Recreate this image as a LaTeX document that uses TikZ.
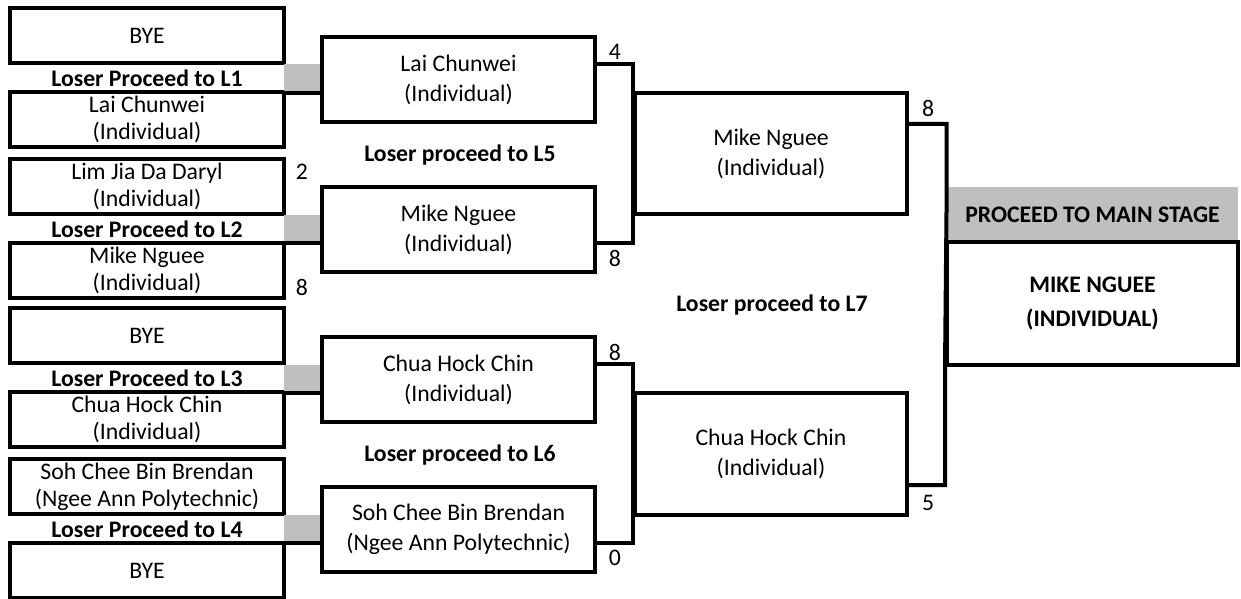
\documentclass[tikz,border=0pt]{standalone}
\usepackage{fontspec}
\setmainfont{Carlito}

\definecolor{tabgray}{RGB}{191,191,191}

\tikzset{
	wire/.style={line width=3pt},
	player/.style={draw, line width=3pt, align=center, inner sep=0pt,
		minimum width=205.5pt, minimum height=41.25pt,
		font=\fontsize{17.8}{20.25}\selectfont},
	round2/.style={player, minimum width=204.75pt, minimum height=63.75pt,
		font=\fontsize{17.8}{22.5}\selectfont},
	round3/.style={player, minimum width=204pt, minimum height=90.75pt,
		font=\fontsize{17.8}{22.5}\selectfont},
	tab/.style={fill=tabgray, inner sep=0pt, minimum width=28.5pt, minimum height=21pt},
	loser/.style={font=\fontsize{17.8}{20}\selectfont\bfseries, inner sep=0pt},
	score/.style={font=\fontsize{17.8}{20}\selectfont, inner sep=0pt}
}

\begin{document}
\begin{tikzpicture}[x=0.75pt,y=-0.75pt]
	\useasboundingbox (0,0) rectangle (1241,599);

	% Round 1
	\node[player] (bye1) at (147,35.5) {BYE};
	\node[loser] (l1) at (147,78) {Loser Proceed to L1};
	\node[player] (lai1) at (147,119.5) {Lai Chunwei\\(Individual)};
	\node[player] (lim1) at (147,186.5) {Lim Jia Da Daryl\\(Individual)};
	\node[loser] (l2) at (147,229) {Loser Proceed to L2};
	\node[player] (mike1) at (147,270) {Mike Nguee\\(Individual)};
	\node[player] (bye3) at (147,335.5) {BYE};
	\node[loser] (l3) at (147,378) {Loser Proceed to L3};
	\node[player] (chua1) at (147,419.5) {Chua Hock Chin\\(Individual)};
	\node[player] (soh1) at (147,486.5) {Soh Chee Bin Brendan\\(Ngee Ann Polytechnic)};
	\node[loser] (l4) at (147,529) {Loser Proceed to L4};
	\node[player] (bye4) at (147,570.5) {BYE};

	\node[score] (sc-lim) at (302,172) {2};
	\node[score] (sc-mike1) at (302,287) {8};

	% Gray tabs
	\node[tab] (tab1) at (303,78.5) {};
	\node[tab] (tab2) at (303,229) {};
	\node[tab] (tab3) at (303,378.5) {};
	\node[tab] (tab4) at (303,529) {};
	\draw[wire] (tab1.south west) -- (tab1.south east);
	\draw[wire] (tab2.south west) -- (tab2.south east);
	\draw[wire] (tab3.south west) -- (tab3.south east);
	\draw[wire] (tab4.south west) -- (tab4.south east);

	% Round 2
	\node[round2] (lai2) at (458.5,79.5) {Lai Chunwei\\(Individual)};
	\node[round2] (mike2) at (458.5,229.5) {Mike Nguee\\(Individual)};
	\node[round2] (chua2) at (458.5,379.5) {Chua Hock Chin\\(Individual)};
	\node[round2] (soh2) at (458.5,529.5) {Soh Chee Bin Brendan\\(Ngee Ann Polytechnic)};

	\node[loser] (l5) at (460,155) {Loser proceed to L5};
	\node[loser] (l6) at (460,455) {Loser proceed to L6};

	% Round 3
	\node[round3] (mike3) at (771,153.5) {Mike Nguee\\(Individual)};
	\node[round3, minimum height=91.5pt] (chua3) at (771,454) {Chua Hock Chin\\(Individual)};

	\node[loser] (l7) at (772,305) {Loser proceed to L7};

	\draw[wire] (lai2.east |- tab1.north) -| (mike3.north west) -- (mike3.south west) |- (mike2.east |- tab2.south);
	\draw[wire] (chua2.east |- tab3.north) -| (chua3.north west) -- (chua3.south west) |- (soh2.east |- tab4.south);

	\node[score] (sc-lai2) at (615,52) {4};
	\node[score] (sc-mike2) at (615,258) {8};
	\node[score] (sc-chua2) at (615,352) {8};
	\node[score] (sc-soh2) at (615,558) {0};

	% Final
	\node[fill=tabgray, inner sep=0pt, minimum width=218.25pt, minimum height=41.25pt,
		font=\fontsize{17.8}{20}\selectfont\bfseries] (head) at (1092.5,214.5) {PROCEED TO MAIN STAGE};
	\node[player, minimum width=218.25pt, minimum height=92.25pt,
		font=\fontsize{17.8}{26}\selectfont\bfseries] (winner) at (1092.5,303.5) {MIKE NGUEE\\(INDIVIDUAL)};

	\draw[wire] (mike3.east |- lai2.south) -| (head.north west) -- (winner.south west) |- (chua3.east |- soh2.north);

	\node[score] (sc-mike3) at (928,108) {8};
	\node[score] (sc-chua3) at (928,503) {5};

\end{tikzpicture}
\end{document}
